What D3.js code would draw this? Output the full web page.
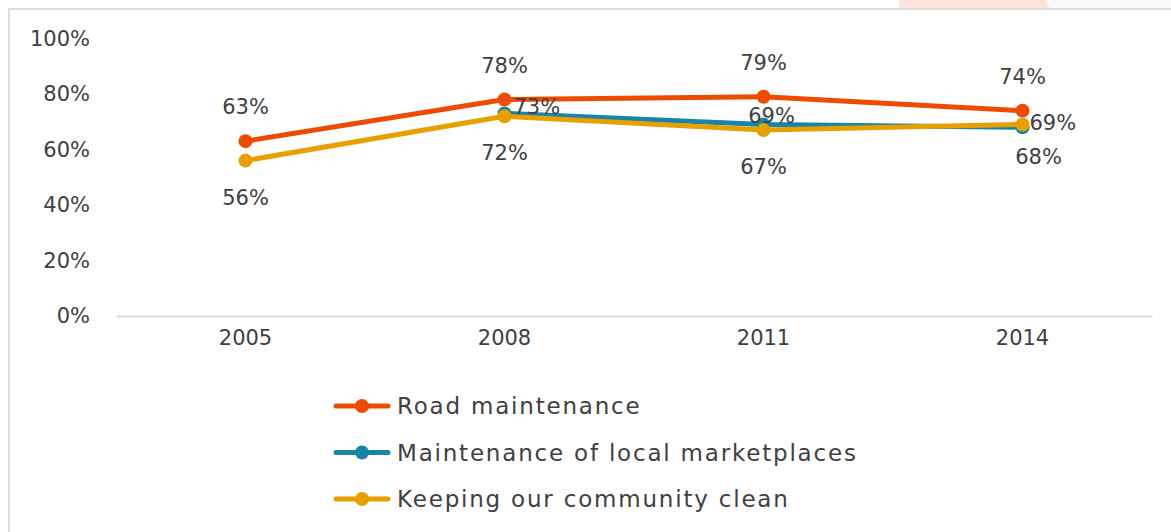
<!DOCTYPE html>
<html>
<head>
<meta charset="utf-8">
<script src="https://cdn.jsdelivr.net/npm/d3@7"></script>
<style>
  body { margin: 0; background: #fff; }
  text { font-family: "Century Gothic", "DejaVu Sans", sans-serif; fill: #404040; }
</style>
</head>
<body>
<div id="chart"></div>
<script>
const years = ["2005", "2008", "2011", "2014"];
const roadMaintenance = [0.63, 0.78, 0.79, 0.74];
const marketplaces = [null, 0.73, 0.69, 0.68];
const communityClean = [0.56, 0.72, 0.67, 0.69];
const seriesNames = ["Road maintenance", "Maintenance of local marketplaces", "Keeping our community clean"];
const yTicks = [0, 0.2, 0.4, 0.6, 0.8, 1.0];

const W = 1171, H = 532;
const margin = { top: 38.5, right: 19, bottom: 216, left: 116 },
      width = W - margin.left - margin.right,
      height = H - margin.top - margin.bottom;

const colors = ["#ee4b00", "#1585aa", "#e8a000"];
// where each data label sits relative to its point
const labelPos = [
    ["above", "above", "above", "above"],
    [null, "right", "above", "below"],
    ["below", "below", "below", "right"]
];

const svg = d3.select("#chart").append("svg")
    .attr("width", W)
    .attr("height", H);

// faint shape clipped at the top edge
svg.append("path")
    .attr("d", "M899,0 L1047,0 L1049,8 L899,8 Z")
    .attr("fill", "#fde3db");
svg.append("rect").attr("x", 1049).attr("y", 0).attr("width", W - 1049).attr("height", 8).attr("fill", "#fafafa");

// outer frame (only top and left edges visible)
svg.append("path")
    .attr("d", `M9,${H} L9,9 L${W},9`)
    .attr("fill", "none")
    .attr("stroke", "#dcdcdc")
    .attr("stroke-width", 2);

const g = svg.append("g")
    .attr("transform", `translate(${margin.left},${margin.top})`);

const x = d3.scaleBand()
    .domain(years)
    .range([0, width]);

const y = d3.scaleLinear()
    .domain([0, 1])
    .range([height, 0]);

// y axis labels
const yAxis = g.append("g")
    .call(d3.axisLeft(y).tickValues(yTicks).tickFormat(d3.format(".0%")).tickSize(0).tickPadding(26));
yAxis.select(".domain").remove();
yAxis.selectAll("text").style("font-size", "21px").style("font-family", null).attr("fill", null);

// x axis
const xAxis = g.append("g")
    .attr("transform", `translate(0,${height})`)
    .call(d3.axisBottom(x).tickSize(0).tickPadding(14));
xAxis.select(".domain").attr("stroke", "#d9d9d9").attr("stroke-width", 2);
xAxis.selectAll("text").style("font-size", "21px").style("font-family", null).attr("fill", null);

const allSeries = [roadMaintenance, marketplaces, communityClean];
const cx = i => x(years[i]) + x.bandwidth() / 2;

const line = d3.line()
    .defined(d => d.v != null)
    .x(d => cx(d.i))
    .y(d => y(d.v));

allSeries.forEach((vals, s) => {
    const pts = vals.map((v, i) => ({ v, i })).filter(d => d.v != null);
    g.append("path")
        .datum(pts)
        .attr("fill", "none")
        .attr("stroke", colors[s])
        .attr("stroke-width", 5)
        .attr("stroke-linejoin", "round")
        .attr("d", line);
    g.selectAll(null)
        .data(pts)
        .enter().append("circle")
        .attr("cx", d => cx(d.i))
        .attr("cy", d => y(d.v))
        .attr("r", 7)
        .attr("fill", colors[s]);
});

// data labels
allSeries.forEach((vals, s) => {
    vals.forEach((v, i) => {
        if (v == null) return;
        const pos = labelPos[s][i];
        let tx = cx(i), ty = y(v), anchor = "middle";
        if (pos === "above") ty -= 27;
        if (pos === "below") ty += 44;
        if (pos === "right") { tx += 7; ty += 5; anchor = "start"; }
        if (s === 1 && pos === "right") { tx += 2; ty -= 4; }
        if (s === 1 && pos === "above") { tx += 8; ty += 25; }
        if (s === 1 && pos === "below") { tx += 16; ty -= 7; }
        g.append("text")
            .attr("x", tx)
            .attr("y", ty)
            .attr("text-anchor", anchor)
            .style("font-size", "21px")
            .text(d3.format(".0%")(v));
    });
});

// legend
const legend = svg.append("g")
    .attr("transform", "translate(336, 406)");

seriesNames.forEach((name, i) => {
    const item = legend.append("g").attr("transform", `translate(0, ${i * 46.5})`);
    item.append("line")
        .attr("x1", 0).attr("x2", 52)
        .attr("stroke", colors[i])
        .attr("stroke-width", 5)
        .attr("stroke-linecap", "round");
    item.append("circle").attr("cx", 26).attr("r", 7).attr("fill", colors[i]);
    item.append("text")
        .attr("x", 61)
        .attr("y", 8)
        .style("font-size", "23px")
        .style("letter-spacing", "1.8px")
        .text(name);
});
</script>
</body>
</html>
